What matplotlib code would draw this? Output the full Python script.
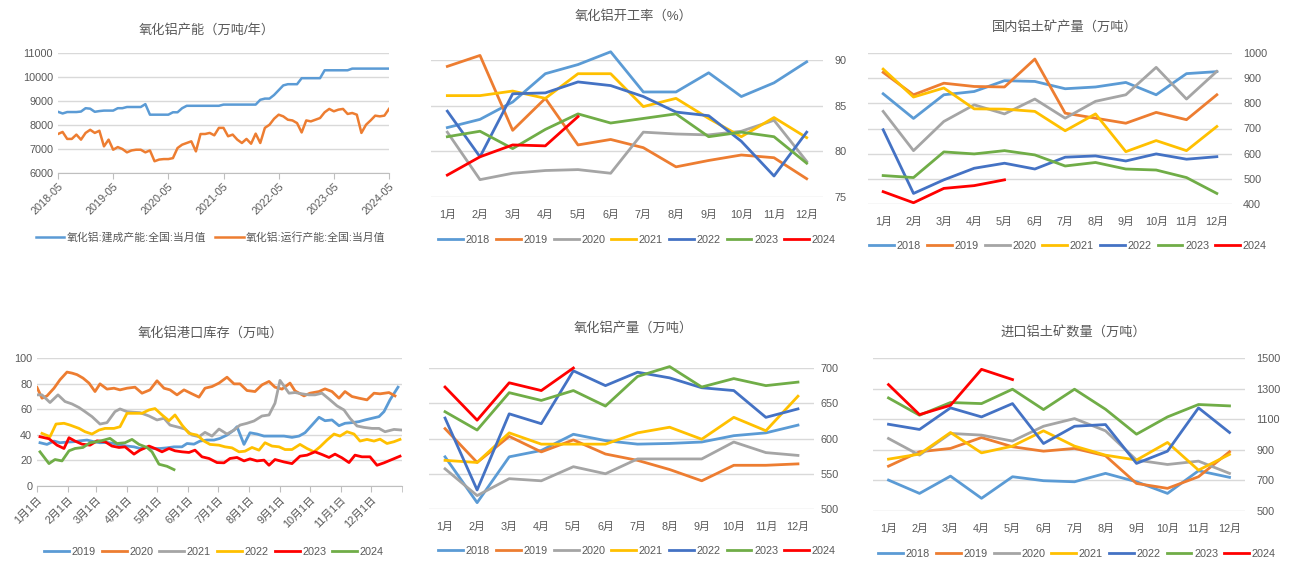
import matplotlib
matplotlib.use('Agg')
import matplotlib.pyplot as plt
import pandas as pd

plt.rcParams['font.family'] = ['Liberation Sans', 'Noto Sans CJK SC', 'DejaVu Sans']
plt.rcParams['axes.unicode_minus'] = False

TXT = '#595959'
GRID = '#D9D9D9'
C18, C19, C20, C21, C22, C23, C24 = '#5B9BD5', '#ED7D31', '#A5A5A5', '#FFC000', '#4472C4', '#70AD47', '#FF0000'

W, H = 1298, 581

# ---------------- data ----------------
month_cats = ['1月', '2月', '3月', '4月', '5月', '6月', '7月', '8月', '9月', '10月', '11月', '12月']
years7 = ['2018', '2019', '2020', '2021', '2022', '2023', '2024']
colors7 = [C18, C19, C20, C21, C22, C23, C24]

# 氧化铝产能 (monthly 2018-05 .. 2024-05)
cap_built = [8550, 8480, 8540, 8540, 8540, 8560, 8700, 8680,
             8550, 8580, 8600, 8600, 8600, 8700, 8700, 8750, 8750, 8750, 8750, 8870,
             8430, 8430, 8430, 8430, 8430, 8530, 8530, 8700, 8800, 8800, 8800, 8800,
             8800, 8800, 8800, 8800, 8850, 8850, 8850, 8850, 8850, 8850, 8850, 8850,
             9050, 9100, 9100, 9250, 9450, 9650, 9700, 9700, 9700, 9950, 9950, 9950,
             9950, 9950, 10280, 10280, 10280, 10280, 10280, 10280, 10350, 10350, 10350, 10350,
             10350, 10350, 10350, 10350, 10350]
cap_run = [7625, 7710, 7420, 7420, 7600, 7390, 7670, 7800,
           7670, 7760, 7110, 7390, 6970, 7080, 7000, 6860, 6940, 6970, 6970, 6860,
           6940, 6490, 6560, 6580, 6580, 6620, 7040, 7180, 7250, 7320, 6900, 7625,
           7625, 7670, 7570, 7880, 7880, 7530, 7600, 7390, 7250, 7420, 7220, 7640,
           7250, 7880, 8010, 8260, 8430, 8360, 8220, 8190, 8080, 7690, 8190, 8150,
           8220, 8290, 8530, 8670, 8570, 8640, 8670, 8460, 8500, 8430, 7670, 8010,
           8190, 8390, 8360, 8390, 8670]

# 氧化铝开工率 (%)
rate = {
    '2018': [82.6, 83.5, 85.4, 88.5, 89.5, 90.9, 86.5, 86.5, 88.6, 86.0, 87.5, 89.8],
    '2019': [89.3, 90.5, 82.3, 85.8, 80.7, 81.3, 80.4, 78.3, 79.0, 79.6, 79.3, 77.0],
    '2020': [82.1, 76.9, 77.6, 77.9, 78.0, 77.6, 82.1, 81.9, 81.8, 82.2, 83.4, 78.9],
    '2021': [86.1, 86.1, 86.6, 85.8, 88.5, 88.5, 84.9, 85.8, 83.6, 81.6, 83.7, 81.5],
    '2022': [84.4, 79.4, 86.3, 86.4, 87.6, 87.2, 86.0, 84.3, 83.9, 81.1, 77.3, 82.1],
    '2023': [81.6, 82.2, 80.3, 82.4, 84.1, 83.1, 83.6, 84.1, 81.6, 82.1, 81.6, 78.7],
    '2024': [77.4, 79.4, 80.7, 80.6, 83.8],
}

# 国内铝土矿产量 (万吨)
bauxite = {
    '2018': [838, 740, 834, 847, 890, 887, 858, 865, 883, 834, 918, 926],
    '2019': [923, 834, 880, 867, 865, 976, 761, 741, 721, 764, 735, 834],
    '2020': [768, 612, 728, 794, 758, 817, 741, 808, 834, 943, 817, 927],
    '2021': [936, 825, 861, 778, 777, 768, 691, 758, 608, 652, 612, 708],
    '2022': [695, 442, 496, 542, 562, 539, 586, 591, 571, 599, 578, 588],
    '2023': [513, 505, 607, 599, 612, 595, 551, 565, 539, 535, 505, 442],
    '2024': [449, 405, 462, 473, 496],
}

# 氧化铝产量 (万吨)
output = {
    '2018': [574, 509, 574, 583, 606, 597, 592, 593, 595, 604, 608, 619],
    '2019': [614, 566, 603, 581, 598, 578, 569, 556, 540, 562, 562, 564],
    '2020': [557, 519, 543, 540, 560, 550, 571, 571, 571, 595, 580, 576],
    '2021': [569, 566, 608, 592, 592, 592, 608, 616, 599, 630, 611, 660],
    '2022': [629, 527, 635, 621, 696, 675, 694, 686, 672, 668, 630, 642],
    '2023': [638, 612, 665, 654, 668, 646, 688, 702, 673, 685, 675, 680],
    '2024': [673, 626, 679, 668, 700],
}

# 进口铝土矿数量 (万吨)
imports = {
    '2018': [702, 615, 728, 583, 724, 698, 691, 746, 691, 615, 763, 720],
    '2019': [793, 887, 909, 980, 920, 891, 909, 861, 680, 648, 724, 887],
    '2020': [974, 865, 1007, 996, 957, 1054, 1104, 1024, 833, 804, 826, 746],
    '2021': [839, 872, 1013, 880, 924, 1024, 924, 865, 833, 948, 767, 870],
    '2022': [1067, 1033, 1174, 1115, 1202, 941, 1054, 1065, 811, 891, 1174, 1013],
    '2023': [1239, 1126, 1209, 1202, 1296, 1163, 1296, 1165, 1002, 1115, 1196, 1187],
    '2024': [1326, 1130, 1191, 1426, 1359],
}

# 氧化铝港口库存 (万吨), x = day of year
port_day = {
    '2019': [4, 11, 18, 24, 31, 38, 44, 51, 58, 64, 71, 78, 84, 91, 98, 104, 111, 118, 124, 131,
             138, 146, 151, 158, 164, 171, 178, 184, 191, 198, 201, 208, 214, 221, 228, 234, 241, 248, 256, 263,
             269, 276, 283, 289, 296, 303, 309, 316, 323, 329, 336, 343, 348, 354, 362],
    '2020': [1, 6, 11, 18, 24, 31, 36, 41, 47, 53, 59, 64, 71, 78, 84, 91, 99, 106, 114, 121,
             128, 134, 141, 148, 156, 163, 169, 176, 183, 191, 198, 204, 211, 219, 226, 233, 239, 246, 254, 259,
             268, 274, 283, 289, 296, 303, 309, 316, 323, 331, 338, 344, 353, 359],
    '2021': [1, 6, 14, 22, 29, 36, 43, 49, 56, 64, 71, 79, 84, 91, 98, 104, 113, 121, 128, 134,
             143, 149, 156, 163, 169, 176, 183, 191, 198, 204, 211, 218, 226, 233, 239, 244, 253, 259, 266, 273,
             279, 286, 294, 301, 308, 314, 321, 328, 336, 343, 349, 358, 366],
    '2022': [6, 14, 20, 28, 34, 43, 49, 56, 63, 69, 78, 84, 91, 98, 106, 113, 119, 126, 133, 139,
             146, 153, 161, 168, 174, 183, 189, 196, 203, 209, 216, 223, 229, 236, 243, 249, 256, 264, 271, 278,
             284, 291, 298, 304, 311, 318, 324, 331, 338, 344, 351, 358, 364],
    '2023': [4, 13, 21, 28, 33, 39, 46, 54, 61, 69, 76, 83, 89, 98, 104, 113, 119, 126, 133, 139,
             146, 153, 159, 166, 173, 181, 188, 194, 201, 208, 214, 221, 228, 233, 239, 248, 256, 264, 271, 279,
             286, 293, 299, 306, 313, 319, 326, 334, 341, 348, 356, 364],
    '2024': [4, 13, 19, 26, 33, 39, 47, 54, 61, 68, 74, 81, 89, 96, 103, 111, 116, 123, 131, 138],
}
port_val = {
    '2019': [33.8, 32.5, 35.1, 33.8, 34.3, 34.6, 35.3, 35.9, 34.6, 33.8, 34, 33.2, 31.9, 31.2, 30.6, 29.3, 30.1, 29.3, 29.3, 29.8,
             30.6, 30.6, 33.2, 32.7, 35.1, 35.9, 35.9, 37.2, 39.8, 43.7, 46.3, 32.5, 41.6, 40.6, 39, 39, 39, 39, 38, 39,
             41.6, 47.6, 53.7, 51, 51.6, 47.1, 49, 49.5, 50.3, 51.6, 52.9, 54.2, 58.1, 67.3, 77.2],
    '2020': [77, 68.6, 70.4, 76.4, 83, 89, 88.2, 87, 84.3, 80.4, 73.8, 79.8, 75.7, 76.4, 75.1, 76.4, 77.2, 72.5, 75.1, 82.2,
             76.4, 75.1, 71.2, 75.1, 72, 69.4, 76.4, 77.7, 80.4, 85, 79.8, 79.8, 74.6, 73.8, 79, 81.7, 77.2, 75.7, 80.4, 74.3,
             70.4, 72.5, 73.8, 75.9, 73.8, 68.6, 73.8, 69.9, 68.6, 67.3, 72.5, 72, 73, 70.4],
    '2021': [71.2, 71.2, 65.2, 71.2, 66, 64.1, 61.3, 58.1, 54.2, 48.4, 49.5, 58.1, 60.2, 58.1, 57.6, 57.3, 54.7, 51.6, 52.9, 47.6,
             45.8, 44.5, 39.8, 38.5, 41.9, 39, 44.5, 40.6, 43.7, 47.6, 49, 50.8, 54.7, 55.5, 64.7, 82.5, 72.5, 73, 72, 71.2,
             71.2, 72.5, 67.3, 62.6, 59.4, 52.9, 46.9, 45.8, 45, 45, 42.4, 44.2, 43.7],
    '2022': [41.1, 38.5, 48.4, 49, 47.6, 45, 42.4, 40.6, 43.7, 45, 45, 46.3, 56.8, 56.8, 56.8, 59.4, 60.5, 55.5, 51, 55.5,
             47.6, 41.1, 39.8, 35.1, 32.5, 31.9, 30.6, 29.8, 26.7, 27.2, 30.1, 28, 33.8, 31.2, 30.6, 28.5, 28.5, 32.5, 29.3, 26.7,
             30.6, 35.9, 40.6, 39, 42.4, 40.6, 35.1, 36.4, 35.1, 36.6, 33.2, 34.6, 36.4],
    '2023': [38.5, 36.9, 31.9, 29.3, 37.7, 35.1, 32.7, 31.9, 35.3, 34.6, 31.2, 30.1, 30.6, 24.9, 28, 31.2, 29.3, 26.7, 29.3, 27.5,
             26.7, 26.2, 28, 22.8, 21.5, 18.3, 18.1, 21.5, 22.3, 19.6, 21.2, 19.6, 20.2, 16.2, 20.7, 18.8, 17.5, 23.3, 24.1, 26.7,
             24.6, 22.3, 24.9, 22, 18.3, 24.1, 22.8, 22.8, 16.2, 18.1, 20.7, 23.3],
    '2024': [26.7, 17.5, 20.7, 19.6, 27.5, 29.3, 30.1, 33.8, 34.6, 35.9, 37.2, 33.2, 33.8, 36.4, 32.5, 30.1, 26.7, 17, 15.4, 12.8],
}
port_colors = {'2019': C18, '2020': C19, '2021': C20, '2022': C21, '2023': C24, '2024': C23}
port_ticks = [1, 32, 60, 91, 121, 152, 182, 213, 244, 274, 305, 335]
port_labels = ['1月1日', '2月1日', '3月1日', '4月1日', '5月1日', '6月1日',
               '7月1日', '8月1日', '9月1日', '10月1日', '11月1日', '12月1日']


# ---------------- helpers ----------------
def box(left, top, right, bottom):
    return [left / W, 1 - bottom / H, (right - left) / W, (bottom - top) / H]


def title(x, y, s):
    fig.text(x / W, 1 - y / H, s, ha='center', va='center', fontsize=9.5, color=TXT)


def legend(ax, cx, cy, ncol=7, handlelength=2.3, columnspacing=0.55):
    ax.legend(loc='center', bbox_to_anchor=(cx / W, 1 - cy / H), bbox_transform=fig.transFigure,
              ncol=ncol, frameon=False, fontsize=7.8, labelcolor=TXT, handlelength=handlelength,
              handletextpad=0.25, columnspacing=columnspacing)


def style(ax):
    for s in ax.spines.values():
        s.set_visible(False)
    ax.grid(axis='y', color=GRID, lw=1)
    ax.set_axisbelow(True)
    ax.tick_params(colors=TXT, labelsize=7.8, length=0)


def year_panel(ax, data, ylim, yticks, pad):
    for yr, col in zip(years7, colors7):
        vals = data[yr]
        ax.plot(range(len(vals)), vals, color=col, lw=2, clip_on=False, label=yr)
    ax.set_xlim(-0.5, 11.5)
    ax.set_ylim(ylim)
    ax.set_yticks(yticks)
    ax.set_xticks(range(12))
    ax.set_xticklabels(month_cats)
    style(ax)
    ax.yaxis.tick_right()
    ax.tick_params(axis='y', pad=pad)
    ax.tick_params(axis='x', pad=9)


fig = plt.figure(figsize=(W / 100, H / 100), dpi=100)

# 1. 氧化铝产能
ax1 = fig.add_axes(box(58, 53, 389, 173))
months = pd.date_range('2018-05-01', '2024-05-01', freq='MS')
idx = range(len(months))
ax1.plot(idx, cap_built, color=C18, lw=1.8, label='氧化铝:建成产能:全国:当月值')
ax1.plot(idx, cap_run, color=C19, lw=1.8, label='氧化铝:运行产能:全国:当月值')
ax1.set_xlim(0, len(months) - 1)
ax1.set_ylim(6000, 11000)
ax1.set_yticks(range(6000, 11001, 1000))
style(ax1)
ax1.spines['bottom'].set_visible(True)
ax1.spines['bottom'].set_color('#BFBFBF')
ax1.set_xticks(list(idx)[::12])
ax1.set_xticklabels([m.strftime('%Y-%m') for m in months[::12]], rotation=45, ha='right',
                    rotation_mode='anchor')
ax1.tick_params(axis='x', length=4, color='#BFBFBF', pad=2)
title(207, 30, '氧化铝产能（万吨/年）')
legend(ax1, 211, 237, ncol=2, handlelength=2.6, columnspacing=0.8)

# 2. 氧化铝开工率
ax2 = fig.add_axes(box(431, 60, 823, 197))
year_panel(ax2, rate, (75, 90), [75, 80, 85, 90], 8)
title(634, 16, '氧化铝开工率（%）')
legend(ax2, 637, 240)

# 3. 国内铝土矿产量
ax3 = fig.add_axes(box(868, 53, 1232, 204))
year_panel(ax3, bauxite, (400, 1000), range(400, 1001, 100), 8)
title(1065, 28, '国内铝土矿产量（万吨）')
legend(ax3, 1068, 246)

# 4. 氧化铝港口库存
ax4 = fig.add_axes(box(37, 358, 402, 486))
for yr in ['2019', '2020', '2021', '2022', '2023', '2024']:
    ax4.plot(port_day[yr], port_val[yr], color=port_colors[yr], lw=2, label=yr)
ax4.set_xlim(1, 366)
ax4.set_ylim(0, 100)
ax4.set_yticks(range(0, 101, 20))
style(ax4)
ax4.spines['bottom'].set_visible(True)
ax4.spines['bottom'].set_color('#BFBFBF')
ax4.set_xticks(port_ticks)
ax4.set_xticklabels(port_labels, rotation=45, ha='right', rotation_mode='anchor')
ax4.set_xticks([366], minor=True)
ax4.tick_params(axis='x', which='both', length=4, color='#BFBFBF', pad=2)
title(210, 333, '氧化铝港口库存（万吨）')
legend(ax4, 214, 552)

# 5. 氧化铝产量
ax5 = fig.add_axes(box(429, 368, 814, 509))
year_panel(ax5, output, (500, 700), range(500, 701, 50), 5)
title(633, 328, '氧化铝产量（万吨）')
legend(ax5, 637, 551)

# 6. 进口铝土矿数量
ax6 = fig.add_axes(box(873, 358, 1245, 511))
year_panel(ax6, imports, (500, 1500), range(500, 1501, 200), 8)
title(1073, 333, '进口铝土矿数量（万吨）')
legend(ax6, 1077, 554)

fig.savefig('out.png', dpi=100, facecolor='white')
